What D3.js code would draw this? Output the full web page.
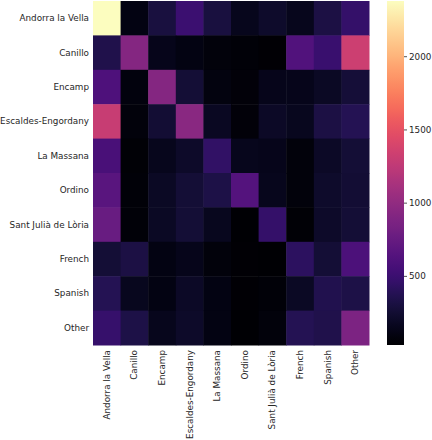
<!DOCTYPE html>
<html><head><meta charset="utf-8">
<script src="https://cdn.jsdelivr.net/npm/d3@7"></script>
<style>body{margin:0;background:#fff;} text{font-family:"DejaVu Sans",sans-serif;fill:#262626;}</style>
</head><body><svg id="c" width="432" height="440"></svg>
<script>
const rowLabels = ["Andorra la Vella","Canillo","Encamp","Escaldes-Engordany","La Massana","Ordino","Sant Julià de Lòria","French","Spanish","Other"];
const colLabels = ["Andorra la Vella","Canillo","Encamp","Escaldes-Engordany","La Massana","Ordino","Sant Julià de Lòria","French","Spanish","Other"];
const values = [
  [2377, 110, 296, 500, 296, 150, 220, 150, 320, 460],
  [340, 920, 140, 110, 75, 60, 40, 620, 490, 1330],
  [600, 90, 920, 260, 100, 65, 140, 140, 185, 270],
  [1300, 80, 250, 950, 175, 70, 195, 165, 320, 370],
  [570, 50, 150, 210, 445, 155, 140, 75, 195, 260],
  [670, 60, 185, 260, 330, 635, 155, 75, 220, 250],
  [760, 60, 185, 260, 165, 35, 460, 55, 210, 260],
  [260, 320, 110, 140, 80, 40, 35, 415, 260, 590],
  [370, 165, 110, 200, 110, 40, 60, 185, 350, 325],
  [470, 330, 150, 210, 110, 28, 80, 370, 340, 875]
];
const cbTicks = [500, 1000, 1500, 2000];

const svg = d3.select("#c");
const L = 93, R = 369, T = 1, B = 345;
const FS = "8.8px";
const x = d3.scaleBand().domain(colLabels.map((d,i)=>i)).range([L, R]);
const y = d3.scaleBand().domain(rowLabels.map((d,i)=>i)).range([T, B]);
const flat = values.flat();
const ext = d3.extent(flat);
const color = d3.scaleSequential(d3.interpolateMagma).domain(ext);

const cells = [];
values.forEach((row,i)=>row.forEach((v,j)=>cells.push({i,j,v})));
svg.append("g").selectAll("rect").data(cells).join("rect")
  .attr("x", d=>x(d.j)).attr("y", d=>y(d.i))
  .attr("width", x.bandwidth()+0.5).attr("height", y.bandwidth()+0.5)
  .attr("fill", d=>color(d.v));

// y labels
svg.append("g").selectAll("text").data(rowLabels).join("text")
  .attr("x", L-4).attr("y", (d,i)=>y(i)+y.bandwidth()/2)
  .attr("dy","0.35em").attr("text-anchor","end").attr("font-size",FS).text(d=>d);

// x labels
svg.append("g").selectAll("text").data(colLabels).join("text")
  .attr("transform",(d,i)=>`translate(${x(i)+x.bandwidth()/2},${B+5}) rotate(-90)`)
  .attr("dy","0.35em").attr("text-anchor","end").attr("font-size",FS).text(d=>d);

// colorbar
const cbX = 387, cbW = 17;
const cy = d3.scaleLinear().domain(ext).range([B, T]);
const defs = svg.append("defs");
const grad = defs.append("linearGradient").attr("id","g").attr("x1",0).attr("x2",0).attr("y1",1).attr("y2",0);
d3.range(0,1.0001,0.02).forEach(t=>grad.append("stop").attr("offset",t).attr("stop-color",d3.interpolateMagma(t)));
svg.append("rect").attr("x",cbX).attr("y",T).attr("width",cbW).attr("height",B-T).attr("fill","url(#g)");
const ax = svg.append("g").attr("transform",`translate(${cbX+cbW},0)`)
  .call(d3.axisRight(cy).tickValues(cbTicks).tickSize(3).tickPadding(2).tickFormat(d3.format("d")));
ax.select(".domain").remove();
ax.selectAll("line").attr("stroke","#262626").attr("stroke-width",0.8);
ax.selectAll("text").attr("font-size",FS).attr("font-family","DejaVu Sans").attr("fill","#262626");
</script></body></html>
